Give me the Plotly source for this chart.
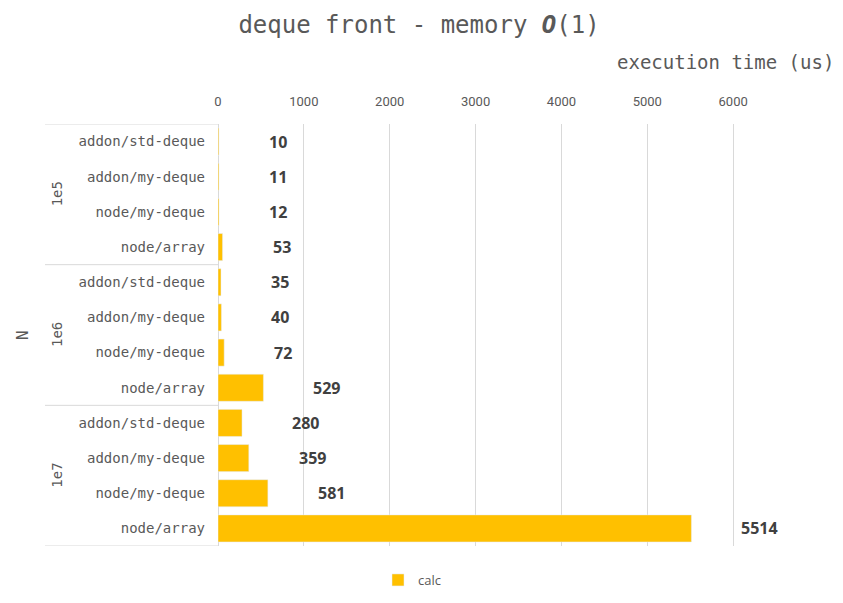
import plotly.graph_objects as go

groups = ["1e5", "1e6", "1e7"]
impls = ["addon/std-deque", "addon/my-deque", "node/my-deque", "node/array"]
values = [10, 11, 12, 53, 35, 40, 72, 529, 280, 359, 581, 5514]
x_ticks = [0, 1000, 2000, 3000, 4000, 5000, 6000]

labels = [impl for g in groups for impl in impls]
idx = list(range(len(values)))

BAR = "#FFC000"
GRAY = "#595959"
GRID = "#D9D9D9"
MONO = "DejaVu Sans Mono"

fig = go.Figure()
fig.add_trace(go.Bar(
    x=values, y=idx, orientation="h", name="calc",
    marker=dict(color=BAR), width=0.77, hoverinfo="x",
))

# page body has an 8px margin; figure coordinates = screen - 8
OFF = 8
W, H = 843 - OFF, 603 - OFF
L = 218 - OFF
T = 124 - OFF
R = W - (819 - OFF)
B = H - (546 - OFF)
plot_w = W - L - R
plot_h = H - T - B

fig.update_layout(
    width=W, height=H,
    margin=dict(l=L, r=R, t=T, b=B, autoexpand=False),
    paper_bgcolor="white", plot_bgcolor="white",
    title=dict(text="deque front - memory <b><i>O</i></b>(1)",
               x=(419 - OFF) / W, xref="container", xanchor="center",
               y=1 - (25 - OFF) / H, yanchor="middle",
               font=dict(family=MONO, size=24, color=GRAY)),
    xaxis=dict(side="top", range=[0, 7000], tickvals=x_ticks,
               showgrid=True, gridcolor=GRID, gridwidth=1,
               zeroline=True, zerolinecolor=GRID, zerolinewidth=1,
               showline=False, ticks="", ticklabelstandoff=14,
               tickfont=dict(family="Roboto", size=13, color=GRAY)),
    yaxis=dict(tickvals=idx, ticktext=labels, range=[11.5, -0.5],
               showgrid=False, zeroline=False, showline=False, ticks="",
               ticklabelstandoff=12,
               tickfont=dict(family=MONO, size=14, color=GRAY)),
    showlegend=True,
    legend=dict(orientation="h", x=(412 - 218) / plot_w, xanchor="center",
                yref="container", y=(603 - 580) / H, yanchor="middle",
                font=dict(family="Open Sans", size=13, color=GRAY)),
    bargap=0.23,
)

ann = []
for v, i in zip(values, idx):
    ann.append(dict(x=v, y=i, xref="x", yref="y", text=f"<b>{v}</b>",
                    showarrow=False, xanchor="left", xshift=48,
                    font=dict(family="Open Sans", size=16, color="#404040")))
# axis title top-right
ann.append(dict(x=1, xref="paper", xanchor="right", xshift=17,
                y=1, yref="paper", yshift=62, yanchor="middle",
                text="execution time (us)", showarrow=False,
                font=dict(family=MONO, size=19, color=GRAY)))
# N label
ann.append(dict(x=0, xref="paper", xshift=-(218 - 22), y=0.5, yref="paper",
                text="N", textangle=-90, showarrow=False,
                xanchor="center", yanchor="middle",
                font=dict(family=MONO, size=16, color=GRAY)))
# group labels
for gi, g in enumerate(groups):
    ann.append(dict(x=0, xref="paper", xshift=-(218 - 57), y=gi * 4 + 1.5, yref="y",
                    text=g, textangle=-90, showarrow=False,
                    xanchor="center", yanchor="middle",
                    font=dict(family=MONO, size=14, color=GRAY)))
fig.update_layout(annotations=ann)

shapes = []
x0 = -(218 - 45) / plot_w
for yb in [-0.5, 3.5, 7.5, 11.5]:
    shapes.append(dict(type="line", xref="paper", yref="y", x0=x0, x1=0, y0=yb, y1=yb,
                       line=dict(color=GRID, width=1)))
fig.update_layout(shapes=shapes)

fig.write_html("out.html")
